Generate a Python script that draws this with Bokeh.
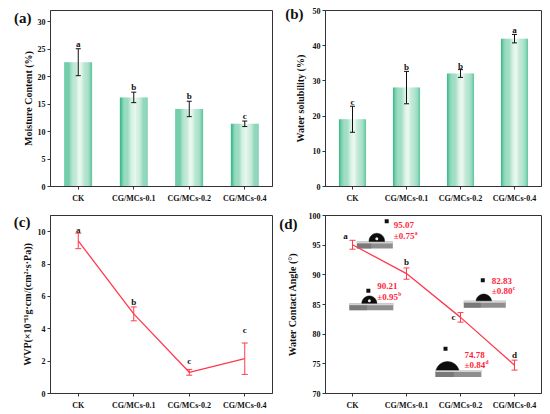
import numpy as np
from bokeh.plotting import figure
from bokeh.models import ColumnDataSource, Whisker, TeeHead, FixedTicker, LinearAxis, Range1d
from bokeh.layouts import gridplot
from bokeh.embed import file_html
from bokeh.resources import INLINE
from bokeh.core.properties import value

# ---------------- data ----------------
categories = ["CK", "CG/MCs-0.1", "CG/MCs-0.2", "CG/MCs-0.4"]

moisture = [22.6, 16.2, 14.1, 11.4]
moisture_err = [2.45, 0.95, 1.4, 0.5]
moisture_sig = ["a", "b", "b", "c"]

solubility = [19.1, 28.1, 32.1, 42.0]
solubility_err = [3.7, 4.6, 1.1, 1.2]
solubility_sig = ["c", "b", "b", "a"]

wvp = [9.43, 4.92, 1.31, 2.15]
wvp_err = [0.48, 0.43, 0.18, 0.97]
wvp_sig = ["a", "b", "c", "c"]

wca = [95.07, 90.21, 82.83, 74.78]
wca_err = [0.75, 0.95, 0.80, 0.84]
wca_sig = ["a", "b", "c", "d"]

# ---------------- styles ----------------
FONT = "Liberation Serif"
RED = "#ff3a4c"
TXT_RED = "#ff1f3a"
AX = "#333333"
XR = (-0.5, 3.5)


def make_fig(w, h, yr, bl, br, bt, bb, ylabel, yticks, lab_standoff):
    p = figure(width=w, height=h, x_range=Range1d(*XR), y_range=Range1d(*yr),
               output_backend="svg", toolbar_location=None,
               min_border_left=bl, min_border_right=br, min_border_top=bt,
               min_border_bottom=bb)
    p.xgrid.visible = False
    p.ygrid.visible = False
    p.outline_line_color = AX
    p.outline_line_width = 1
    p.background_fill_color = "white"
    p.border_fill_color = "white"
    p.xaxis.ticker = FixedTicker(ticks=[0, 1, 2, 3])
    p.xaxis.major_label_overrides = {i: c for i, c in enumerate(categories)}
    p.yaxis.ticker = FixedTicker(ticks=yticks)
    for ax in (p.xaxis, p.yaxis):
        ax.axis_line_color = AX
        ax.major_tick_line_color = AX
        ax.minor_tick_line_color = None
        ax.major_tick_out = 3
        ax.major_tick_in = 0
        ax.major_label_text_font = FONT
        ax.major_label_text_font_style = "bold"
        ax.major_label_text_font_size = "8px"
        ax.major_label_text_color = "#111111"
    p.xaxis.major_label_standoff = 4
    p.yaxis.major_label_standoff = 2
    p.yaxis.axis_label = ylabel
    p.yaxis.axis_label_text_font = FONT
    p.yaxis.axis_label_text_font_style = "bold"
    p.yaxis.axis_label_text_font_size = "10px"
    p.yaxis.axis_label_text_color = "#111111"
    p.yaxis.axis_label_standoff = lab_standoff
    return p


def scales(w, h, bl, br, bt, bb, yr):
    sx = (w - bl - br) / (XR[1] - XR[0])
    sy = (h - bt - bb) / (yr[1] - yr[0])
    return sx, sy


def panel_label(p, text, yv, standoff):
    # panel letter drawn as the single tick label of an extra, invisible left axis
    ax = LinearAxis(ticker=FixedTicker(ticks=[yv]), major_label_overrides={yv: text},
                    axis_line_color=None, major_tick_line_color=None,
                    minor_tick_line_color=None, major_tick_out=0, major_tick_in=0,
                    major_label_standoff=standoff, major_label_text_font=FONT,
                    major_label_text_font_style="bold", major_label_text_font_size="15px",
                    major_label_text_color="#111111")
    p.add_layout(ax, "left")


def gradient_colors(n):
    edge = np.array([0x38, 0xb8, 0x89], dtype=float)
    light = np.array([0xea, 0xf8, 0xef], dtype=float)
    cols = []
    for k in range(n):
        t = (k + 0.5) / n
        f = max(0.0, 1 - abs(t - 0.55) / 0.55) ** 0.85
        c = edge + (light - edge) * f
        cols.append("#%02x%02x%02x" % tuple(int(round(v)) for v in c))
    return cols


def gradient_bars(p, vals, bw=0.5, n=24):
    cols = gradient_colors(n)
    xs, tops, cs = [], [], []
    for i, v in enumerate(vals):
        for k in range(n):
            xs.append(i - bw / 2 + (k + 0.5) * bw / n)
            tops.append(v)
            cs.append(cols[k])
    p.vbar(x=xs, top=tops, bottom=0, width=bw / n * 1.08, fill_color=cs, line_color=None)


def error_bars(p, vals, errs, color, cap=5):
    src = ColumnDataSource(dict(x=list(range(len(vals))),
                                lower=[v - e for v, e in zip(vals, errs)],
                                upper=[v + e for v, e in zip(vals, errs)]))
    p.add_layout(Whisker(source=src, base="x", lower="lower", upper="upper",
                         line_color=color, line_width=1, level="annotation",
                         upper_head=TeeHead(size=cap, line_color=color, line_width=1),
                         lower_head=TeeHead(size=cap, line_color=color, line_width=1)))


def sig_letters(p, vals, errs, sig, xo, yo):
    p.text(x=list(range(len(vals))), y=[v + e for v, e in zip(vals, errs)], text=sig,
           x_offset=xo, y_offset=yo, text_font=value(FONT), text_font_style="bold",
           text_font_size="9px", text_align="center", text_baseline="middle",
           text_color="#111111")


# ---------------- (a) ----------------
A = dict(w=275, h=207, bl=50, br=1, bt=7, bb=20)
yrA = (0, 32)
pa = make_fig(A["w"], A["h"], yrA, A["bl"], A["br"], A["bt"], A["bb"],
              "Moisture Content (%)", [0, 5, 10, 15, 20, 25, 30], 1)
gradient_bars(pa, moisture)
error_bars(pa, moisture, moisture_err, "#111111", cap=5)
sig_letters(pa, moisture, moisture_err, moisture_sig, [0] * 4, [-5] * 4)
panel_label(pa, "(a)", 30.6, -12)

# ---------------- (b) ----------------
B = dict(w=275, h=207, bl=49, br=9, bt=10, bb=21)
yrB = (0, 50)
pb = make_fig(B["w"], B["h"], yrB, B["bl"], B["br"], B["bt"], B["bb"],
              "Water solubility (%)", [0, 10, 20, 30, 40, 50], 4)
gradient_bars(pb, solubility)
error_bars(pb, solubility, solubility_err, "#111111", cap=5)
sig_letters(pb, solubility, solubility_err, solubility_sig, [0] * 4, [-4] * 4)
panel_label(pb, "(b)", 49.0, -12)

# ---------------- (c) ----------------
C = dict(w=275, h=207, bl=50, br=3, bt=8, bb=20)
yrC = (0, 11)
pc = make_fig(C["w"], C["h"], yrC, C["bl"], C["br"], C["bt"], C["bb"],
              "WVP(×10⁻¹¹g·cm/(cm²·s·Pa))", [0, 2, 4, 6, 8, 10], 2)
pc.line(x=list(range(4)), y=wvp, line_color=RED, line_width=1.3)
error_bars(pc, wvp, wvp_err, RED, cap=6)
sig_letters(pc, wvp, wvp_err, wvp_sig, [0] * 4, [-3, -5, -8, -13])
panel_label(pc, "(c)", 10.57, -12)

# ---------------- (d) ----------------
D = dict(w=275, h=207, bl=50, br=7, bt=3, bb=21)
yrD = (70, 100)
pd_ = make_fig(D["w"], D["h"], yrD, D["bl"], D["br"], D["bt"], D["bb"],
               "Water Contact Angle (°)", [70, 75, 80, 85, 90, 95, 100], 8)
sx, sy = scales(D["w"], D["h"], D["bl"], D["br"], D["bt"], D["bb"], yrD)
panel_label(pd_, "(d)", 98.6, -14)

# droplet insets (photographs in the original), anchored at droplet base centre
inset_x = [0.45, 0.312, 2.431, 1.759]
inset_y = [95.6, 85.19, 85.63, 73.94]
drop_half = [7.8, 7.6, 7.8, 11.5]          # px
sub_dx = [-2, 2, 1, 11]                     # px
sub_w = [36, 44, 42, 46]                    # px
sq_off = [(10, 21), (-1, 13), (-1, 21), (-2, 22)]   # px (right, up)
txt_dx = [17, 8, 8, 17]
txt_up = [(17, 6), (17, 6), (20, 10), (15, 5)]

for i in range(4):
    ax_, ay_ = inset_x[i], inset_y[i]
    # substrate
    pd_.rect(x=[ax_ + sub_dx[i] / sx], y=[ay_ - 3.5 / sy], width=sub_w[i], height=7,
             width_units="screen", height_units="screen",
             fill_color="#8e8e8e", line_color=None)
    pd_.rect(x=[ax_ + sub_dx[i] / sx], y=[ay_ - 1.0 / sy], width=sub_w[i], height=2,
             width_units="screen", height_units="screen",
             fill_color="#d4d4d4", line_color=None)
    pd_.rect(x=[ax_ + sub_dx[i] / sx - sub_w[i] * 0.3 / sx], y=[ay_ - 4.5 / sy],
             width=sub_w[i] * 0.4, height=5, width_units="screen", height_units="screen",
             fill_color="#6a6a6a", line_color=None, fill_alpha=0.6)
    # droplet: spherical cap with the measured contact angle
    th = np.radians(wca[i])
    a = drop_half[i]
    R = a / np.sin(th)
    t = np.linspace(-th, th, 40)
    xs = ax_ + (R * np.sin(t)) / sx
    ys = ay_ + (R * (np.cos(t) - np.cos(th))) / sy
    pd_.patch(x=list(xs), y=list(ys), fill_color="#0d0d0d", line_color="#0d0d0d",
              line_width=0.5)
    hi_h = R * (1 - np.cos(th))
    if i < 2:
        pd_.ellipse(x=[ax_], y=[ay_ + hi_h * 0.35 / sy], width=3, height=3,
                    width_units="screen", height_units="screen",
                    fill_color="#e8e8e8", line_color=None)
    # needle tip square
    pd_.rect(x=[ax_ + sq_off[i][0] / sx], y=[ay_ + sq_off[i][1] / sy], width=4, height=4,
             width_units="screen", height_units="screen",
             fill_color="#111111", line_color=None)
    # value texts
    pd_.text(x=[ax_], y=[ay_], text=["%.2f" % wca[i]], x_offset=txt_dx[i],
             y_offset=-txt_up[i][0], text_font=value(FONT), text_font_style="bold",
             text_font_size="9px", text_align="left", text_baseline="middle",
             text_color=TXT_RED)
    pd_.text(x=[ax_], y=[ay_], text=["±%.2f" % wca_err[i]], x_offset=txt_dx[i],
             y_offset=-txt_up[i][1], text_font=value(FONT), text_font_style="bold",
             text_font_size="9px", text_align="left", text_baseline="middle",
             text_color=TXT_RED)
    pd_.text(x=[ax_], y=[ay_], text=[wca_sig[i]], x_offset=txt_dx[i] + 21,
             y_offset=-txt_up[i][1] - 3, text_font=value(FONT), text_font_style="bold",
             text_font_size="5.5px", text_align="left", text_baseline="middle",
             text_color=TXT_RED)

pd_.line(x=list(range(4)), y=wca, line_color=RED, line_width=1.3)
error_bars(pd_, wca, wca_err, RED, cap=6)
sig_letters(pd_, wca, wca_err, wca_sig, [-7, 0, -7, 0], [-4, -6, 4, -5])

grid = gridplot([[pa, pb], [pc, pd_]], toolbar_location=None)
open("out.html", "w").write(file_html(grid, INLINE))
